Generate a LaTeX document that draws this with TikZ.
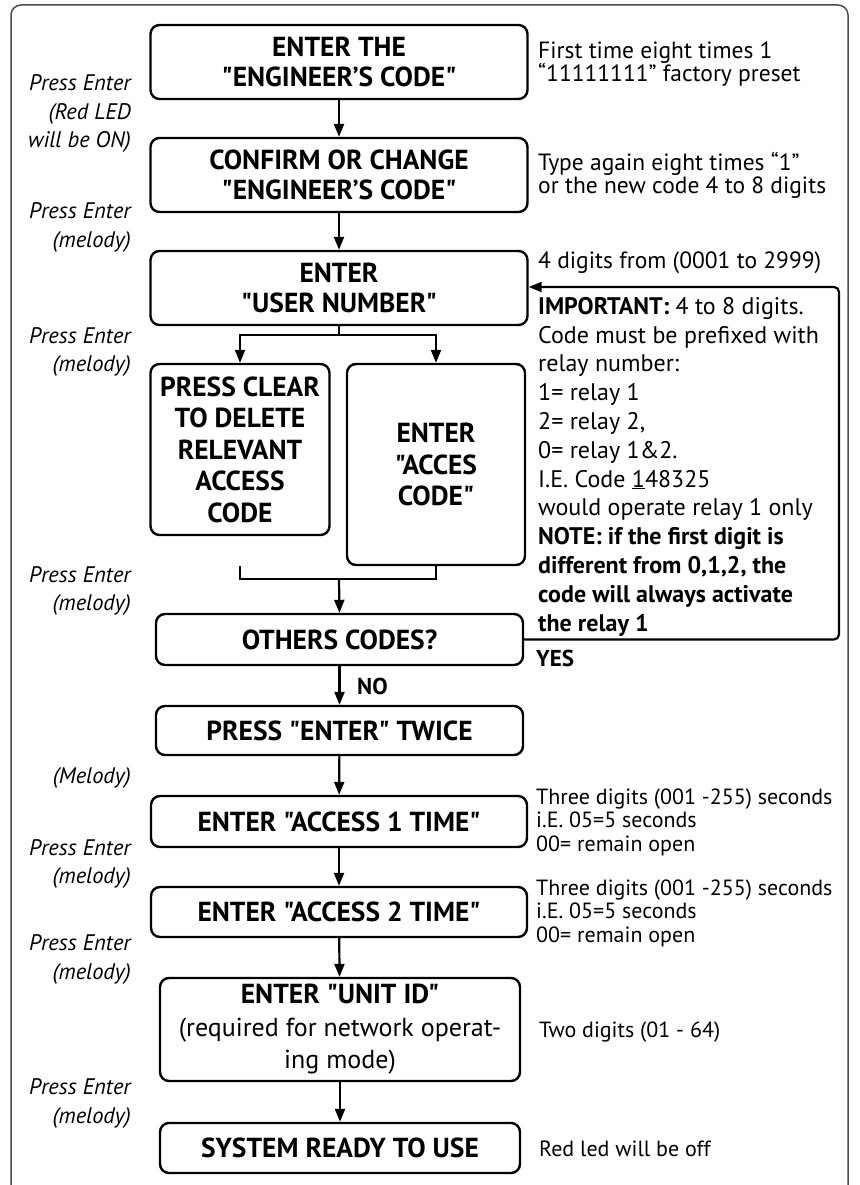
\documentclass[tikz,border=0pt]{standalone}
\usepackage{fontspec}
\setmainfont{PT Sans}[Ligatures=TeXOff]
\usetikzlibrary{arrows.meta,positioning,calc}

\newcommand{\boxfont}{\fontsize{27.5}{30}\selectfont\bfseries}
\newcommand{\notefont}{\fontsize{23.5}{23.5}\selectfont}
\newcommand{\longfont}{\fontsize{24}{28.8}\selectfont}
\newcommand{\timefont}{\fontsize{22}{23.5}\selectfont}
\newcommand{\sidefont}{\fontsize{22.5}{28.5}\selectfont\itshape}

\tikzset{
  flowbox/.style={draw, rounded corners=9pt, line width=2.4pt, align=center, font=\boxfont, inner sep=3pt},
  note/.style={anchor=west, align=left, font=\notefont, inner sep=0pt},
  noteblock/.style={note, font=\longfont},
  timenote/.style={note, font=\timefont},
  side/.style={anchor=east, align=right, font=\sidefont, inner sep=0pt},
  tag/.style={anchor=west, font=\fontsize{23}{24}\selectfont\bfseries, inner sep=0pt},
  link/.style={line width=2.2pt},
  flow/.style={link, -{Triangle[length=13pt,width=10pt]}},
  frame/.style={draw=black!70, line width=1.5pt, rounded corners=10pt}
}

\begin{document}
\begin{tikzpicture}[x=1pt, y=-1pt]
  \useasboundingbox (0,0) rectangle (859,1185);
  \draw[frame] (11,5) rectangle (848,1240);

  % main column
  \node[flowbox, minimum width=377pt, minimum height=74pt] (eng) at (339,62) {ENTER THE\\"ENGINEER’S CODE"};
  \node[flowbox, minimum width=377pt, minimum height=74pt] (confirm) at (339,175) {CONFIRM OR CHANGE\\"ENGINEER’S CODE"};
  \node[flowbox, minimum width=377pt, minimum height=74pt] (user) at (339,288) {ENTER\\"USER NUMBER"};
  \node[flowbox, minimum width=179pt, minimum height=171pt, font=\fontsize{27.5}{31.5}\selectfont\bfseries] (clear) at (240,449.5) {PRESS CLEAR\\TO DELETE\\RELEVANT\\ACCESS\\CODE};
  \node[flowbox, minimum width=178pt, minimum height=201pt, font=\fontsize{27.5}{31.5}\selectfont\bfseries] (acces) at (436,464.5) {ENTER\\"ACCES\\CODE"};
  \node[flowbox, minimum width=367pt, minimum height=51pt] (others) at (339.5,639.5) {OTHERS CODES?};
  \node[flowbox, minimum width=367pt, minimum height=49pt] (twice) at (339.5,730.5) {PRESS "ENTER" TWICE};
  \node[flowbox, minimum width=376pt, minimum height=51pt] (time1) at (339,821.5) {ENTER "ACCESS 1 TIME"};
  \node[flowbox, minimum width=376pt, minimum height=50pt] (time2) at (339,912) {ENTER "ACCESS 2 TIME"};
  \node[flowbox, minimum width=360pt, minimum height=103pt, font=\fontsize{26}{32.5}\selectfont] (unit) at (340,1029.5) {\fontsize{27.5}{32.5}\selectfont\bfseries ENTER "UNIT ID"\\(required for network operat-\\ing mode)};
  \node[flowbox, minimum width=360pt, minimum height=50pt] (ready) at (340,1148) {SYSTEM READY TO USE};

  % connectors
  \draw[flow] (eng) -- (confirm);
  \draw[flow] (confirm) -- (user);
  \coordinate (split) at (339,335);
  \draw[link] (user.south) -- (split);
  \draw[flow] (split) -| (clear.north);
  \draw[flow] (split) -| (acces.north);
  \coordinate (merge) at (339,579);
  \draw[link] (clear.south |- acces.south) -- (clear.south |- merge) -| (acces.south);
  \draw[flow] (merge) -- (others.north);
  \coordinate (loop) at (839,287);
  \draw[flow, rounded corners=5pt] (others.east) -| (loop) -- (user.east |- loop);
  \draw[flow] (others) -- (twice);
  \draw[flow] (twice) -- (time1);
  \draw[flow] (time1) -- (time2);
  \draw[flow] (time2) -- (unit);
  \draw[flow] (unit) -- (ready);

  \node[tag] (yes) at (536,658) {YES};
  \node[tag] (no) at (357,686) {NO};

  % notes on the right
  \node[note] (n1) at (538,64) {First time eight times 1\\“11111111” factory preset};
  \node[note] (n2) at (538,175.5) {Type again eight times “1”\\or the new code 4 to 8 digits};
  \node[note] (n3) at (538,263) {4 digits from (0001 to 2999)};
  \node[noteblock] (n4) at (538,466.5) {\textbf{IMPORTANT:} 4 to 8 digits.\\Code must be prefixed with\\relay number:\\1= relay 1\\2= relay 2,\\0= relay 1\&2.\\I.E. Code \underline{1}48325\\would operate relay 1 only\\\textbf{NOTE: if the first digit is}\\\textbf{different from 0,1,2, the}\\\textbf{code will always activate}\\\textbf{the relay 1}};
  \node[timenote] (n5) at (536,822) {Three digits (001 -255) seconds\\i.E. 05=5 seconds\\00= remain open};
  \node[timenote] (n6) at (536,913) {Three digits (001 -255) seconds\\i.E. 05=5 seconds\\00= remain open};
  \node[timenote] (n7) at (539,1032) {Two digits (01 - 64)};
  \node[timenote] (n8) at (539,1149) {Red led will be off};

  % notes on the left
  \node[side] (s1) at (131,114) {Press Enter\\(Red LED\\will be ON)};
  \node[side] (s2) at (131,227.5) {Press Enter\\(melody)};
  \node[side] (s3) at (131,352) {Press Enter\\(melody)};
  \node[side] (s4) at (131,591) {Press Enter\\(melody)};
  \node[side] (s5) at (131,778) {(Melody)};
  \node[side] (s6) at (131,864) {Press Enter\\(melody)};
  \node[side] (s7) at (131,959.5) {Press Enter\\(melody)};
  \node[side] (s8) at (131,1103.5) {Press Enter\\(melody)};
\end{tikzpicture}
\end{document}
